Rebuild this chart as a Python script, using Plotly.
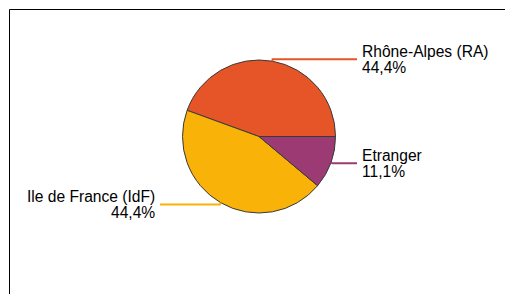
import math
import plotly.graph_objects as go

labels = ["Rhône-Alpes (RA)", "Ile de France (IdF)", "Etranger"]
values = [4, 4, 1]
pct_text = ["44,4%", "44,4%", "11,1%"]
colors = ["#E55527", "#F9B208", "#9C3B73"]
label_side = ["right", "left", "right"]

W, H = 505, 294
cx, cy, R = 259.0, 136.5, 76.5

def px(x):
    return x / W

def py(y):
    return 1 - y / H

total = sum(values)
# plotly counterclockwise: first slice lies clockwise of the rotation point
rotation = 90 - 360.0 * values[0] / total

fig = go.Figure()
fig.add_trace(go.Pie(
    labels=labels, values=values, sort=False, direction="counterclockwise",
    rotation=rotation, textinfo="none", hoverinfo="label+percent",
    marker=dict(colors=colors, line=dict(color="#3a3a3a", width=1)),
    domain=dict(x=[px(cx - R), px(cx + R)], y=[py(cy + R), py(cy - R)]),
    showlegend=False,
))

shapes = []
annotations = []
start = 0.0
FONT = dict(family="Liberation Sans, Arial", size=15.6, color="#000")
for lab, v, pt, col, side in zip(labels, values, pct_text, colors, label_side):
    frac = v / total
    mid = (start + frac / 2) * 2 * math.pi
    start += frac
    ex, ey = cx + R * math.cos(mid), cy - R * math.sin(mid)
    bx, by = cx + (R + 2) * math.cos(mid), cy - (R + 2) * math.sin(mid)
    if side == "right":
        endx = 357
        tx, anchor = 360, "left"
    else:
        endx = 160
        tx, anchor = 157, "right"
    path = f"M {px(ex)} {py(ey)} L {px(bx)} {py(by)} L {px(endx)} {py(by)}"
    shapes.append(dict(type="path", xref="paper", yref="paper", path=path,
                       line=dict(color=col, width=2)))
    annotations.append(dict(x=px(tx), y=py(by - 8), xref="paper", yref="paper",
                            text=lab, showarrow=False, xanchor=anchor, yanchor="middle",
                            font=FONT))
    annotations.append(dict(x=px(tx), y=py(by + 8.5), xref="paper", yref="paper",
                            text=pt, showarrow=False, xanchor=anchor, yanchor="middle",
                            font=FONT))

# frame (left and top edges visible)
shapes.append(dict(type="line", xref="paper", yref="paper",
                   x0=px(9.5), y0=py(9.5), x1=1.05, y1=py(9.5),
                   line=dict(color="#000", width=1)))
shapes.append(dict(type="line", xref="paper", yref="paper",
                   x0=px(9.5), y0=py(9.5), x1=px(9.5), y1=-0.05,
                   line=dict(color="#000", width=1)))

fig.update_layout(
    width=W, height=H, margin=dict(l=0, r=0, t=0, b=0),
    paper_bgcolor="white", plot_bgcolor="white",
    shapes=shapes, annotations=annotations,
)
fig.write_html(
    "out.html",
    config={"displayModeBar": False},
    post_script=(
        "document.documentElement.style.overflow='hidden';"
        "document.body.style.margin='0';document.body.style.overflow='hidden';"
    ),
)
